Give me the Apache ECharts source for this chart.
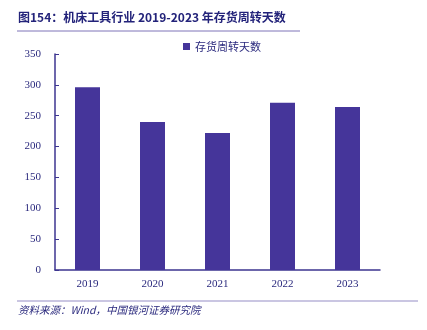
<!DOCTYPE html>
<html><head><meta charset="utf-8">
<script src="https://cdn.jsdelivr.net/npm/echarts@6/dist/echarts.min.js"></script>
<style>html,body{margin:0;padding:0;background:#fff}#c{width:427px;height:330px}</style>
</head><body><div id="c"></div>
<script>
var categories = ['2019', '2020', '2021', '2022', '2023'];
var inventoryDays = [296, 240, 222, 271, 264];
var yTicks = [0, 50, 100, 150, 200, 250, 300, 350];
var seriesName = '存货周转天数';

var chart = echarts.init(document.getElementById('c'));
var navy = '#2b2a7e';
chart.setOption({
  animation: false,
  title: {
    text: '图154：机床工具行业 2019-2023 年存货周转天数',
    left: 13, top: 6,
    textStyle: { fontFamily: 'Noto Sans CJK SC', fontSize: 12, fontWeight: 'bold', color: '#23237a' }
  },
  legend: {
    data: [seriesName], left: 178, top: 36,
    itemWidth: 7, itemHeight: 7, icon: 'rect', itemGap: 4,
    textStyle: { fontFamily: 'Noto Sans CJK SC', fontSize: 11, color: navy }
  },
  grid: { left: 55, right: 47, top: 54, bottom: 60 },
  xAxis: {
    type: 'category', data: categories,
    axisLine: { lineStyle: { color: '#3d3590', width: 1.5 } },
    axisTick: { show: false },
    axisLabel: { color: navy, fontFamily: 'Liberation Serif', fontSize: 11, margin: 9 }
  },
  yAxis: {
    type: 'value', min: yTicks[0], max: yTicks[yTicks.length - 1], interval: 50,
    splitLine: { show: false },
    axisLine: { show: true, lineStyle: { color: '#3d3590', width: 1.5 } },
    axisTick: { show: true, inside: true, length: 4, lineStyle: { color: '#3d3590' } },
    axisLabel: { color: navy, fontFamily: 'Liberation Serif', fontSize: 11, margin: 14 }
  },
  series: [{
    name: seriesName, type: 'bar', data: inventoryDays, barWidth: 25,
    itemStyle: { color: '#45359a' }
  }],
  graphic: [
    { type: 'line', shape: { x1: 17, y1: 31, x2: 300, y2: 31 }, style: { stroke: '#7e74b8', lineWidth: 1 } },
    { type: 'line', shape: { x1: 17, y1: 301, x2: 418, y2: 301 }, style: { stroke: '#cac6e2', lineWidth: 2 } },
    { type: 'text', left: 18, top: 305, style: { text: '资料来源：Wind，中国银河证券研究院', font: 'italic 10.5px "Noto Sans CJK SC"', fill: '#2b2a7e' } }
  ]
});
</script></body></html>
